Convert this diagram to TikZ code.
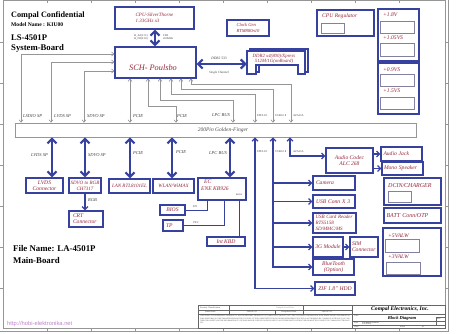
\documentclass[tikz,border=0pt]{standalone}
\usepackage{fontspec}
\setmainfont{Liberation Serif}
\setsansfont{Liberation Sans}
\usetikzlibrary{arrows.meta}
\definecolor{bl}{RGB}{55,66,160}
\definecolor{tr}{RGB}{150,40,60}
\definecolor{gl}{RGB}{150,150,150}
\definecolor{ib}{RGB}{130,130,160}
\definecolor{urlc}{RGB}{190,130,200}
\tikzset{
 blk/.style={draw=bl, line width=1.1pt, fill=white, text=tr, font=\fontsize{5.6}{6.2}\selectfont\itshape, align=center, inner sep=0pt},
 ltw/.style={align=left, text width=#1},
 rtxt/.style={text=tr, font=\fontsize{5.6}{6.2}\selectfont\itshape, inner sep=0pt},
 inb/.style={draw=ib, line width=0.6pt},
 garr/.style={draw=gl, line width=0.6pt, {Straight Barb[length=2.5pt,width=4pt]}-{Straight Barb[length=2.5pt,width=4pt]}},
 big/.style={draw=bl, line width=2.2pt, {Straight Barb[length=4.5pt,width=9pt]}-{Straight Barb[length=4.5pt,width=9pt]}},
 bline/.style={draw=bl, line width=1.3pt},
 bboth/.style={bline, {Straight Barb[length=3pt,width=6pt]}-{Straight Barb[length=3pt,width=6pt]}},
 barrow/.style={bline, -{Straight Barb[length=3pt,width=6pt]}},
 thinb/.style={draw=bl, line width=1pt},
 lab/.style={font=\fontsize{4.5}{4.5}\selectfont\itshape, text=black!75, inner sep=0pt},
 sml/.style={font=\fontsize{2.8}{3}\selectfont, text=black!75, inner sep=0pt},
 tiny/.style={font=\fontsize{2.2}{2.5}\selectfont, text=black!75, inner sep=0pt},
 ttl/.style={font=\bfseries, inner sep=0pt, anchor=west},
 frm/.style={draw=gl, line width=0.5pt},
 tb/.style={draw=black!60, line width=0.4pt},
}
\begin{document}
\begin{tikzpicture}[x=1pt,y=-1pt]
\useasboundingbox (0,0) rectangle (474,334);
% frame
\draw[frm] (3,0.5) rectangle (445,328);
\draw[frm] (448,0) -- (448,331) -- (0,331);
\foreach \x in {47,91,...,399} {\draw[frm] (\x,0.5) -- (\x,3.5); \draw[frm] (\x,328) -- (\x,331);}
\foreach \y in {42,83,124,165,206,247,288} {\draw[frm] (0,\y) -- (3,\y); \draw[frm] (445,\y) -- (448,\y);}

% header texts
\node[ttl, font=\fontsize{8.2}{9}\selectfont\bfseries] (t1) at (11,15) {Compal Confidential};
\node[ttl, font=\fontsize{5.6}{6}\selectfont\bfseries] (t2) at (11,25) {Model Name : KIU00};
\node[ttl, font=\fontsize{8.6}{9}\selectfont\bfseries] (t3) at (11,38) {LS-4501P};
\node[ttl, font=\fontsize{8.7}{9}\selectfont\bfseries] (t4) at (11,48) {System-Board};
\node[ttl, font=\fontsize{8.8}{9}\selectfont\bfseries] (t5) at (13,249) {File Name: LA-4501P};
\node[ttl, font=\fontsize{8.8}{9}\selectfont\bfseries] (t6) at (13,260) {Main-Board};
\node[anchor=west, inner sep=0pt, text=urlc, font=\fontsize{5.8}{6}\sffamily] (url) at (7,324) {http://hobi-elektronika.net};

% top blocks
\node[blk, minimum width=79pt, minimum height=22pt, align=left, font=\fontsize{5}{6}\selectfont\itshape] (cpu) at (154.5,18) {CPU-SilverThorne\\1.33GHz x3};
\node[blk, minimum width=81pt, minimum height=31pt] (sch) at (155.5,62.5) {};
\node[rtxt, font=\fontsize{8.3}{9}\selectfont\itshape] (scht) at (153,68) {SCH- Poulsbo};
\node[blk, minimum width=42pt, minimum height=16pt, align=left, font=\fontsize{4.6}{5.6}\selectfont\itshape] (clk) at (248,28) {Clock Gen\\RTM880n10};
\node[blk, minimum width=57pt, minimum height=26pt] (creg) at (345.5,23) {};
\node[rtxt, anchor=west] (cregt) at (322,16) {CPU Regulator};
\draw[inb] (321,23) rectangle (344,33);

% power boxes
\node[blk, minimum width=41pt, minimum height=52pt] (pw1) at (398.5,35) {};
\node[blk, minimum width=41pt, minimum height=51pt] (pw2) at (398.5,88.5) {};
\node[rtxt, anchor=west] (p1) at (383,15) {+1.8V};
\node[rtxt, anchor=west] (p2) at (383,37.5) {+1.05VS};
\node[rtxt, anchor=west] (p3) at (383,69.5) {+0.9VS};
\node[rtxt, anchor=west] (p4) at (383,91) {+1.5VS};
\draw[inb] (380,21) rectangle (414,33);
\draw[inb] (380,43) rectangle (414,56);
\draw[inb] (380,74) rectangle (414,86);
\draw[inb] (380,97) rectangle (414,109);

% DDR module
\draw[draw=bl, line width=1.1pt, fill=white] (250,49) -- (308,49) -- (308,72) -- (301,72) -- (301,63) -- (259,63) -- (259,72) -- (250,72) -- cycle;
\draw[draw=bl, line width=1.1pt, fill=white] (247,51) -- (305,51) -- (305,74) -- (298,74) -- (298,65) -- (256,65) -- (256,74) -- (247,74) -- cycle;
\node[minimum width=58pt, minimum height=23pt, inner sep=0pt] (ddr) at (276,62.5) {};
\node[rtxt, align=center, font=\fontsize{4.8}{4.6}\selectfont\itshape] (ddrt) at (274,59) {DDR2 x4(800)/Xpress\\512M/1G(onBoard)};

% bus
\node[draw=gl, line width=0.6pt, minimum width=401pt, minimum height=14pt, inner sep=0pt] (bus) at (215.5,130) {};
\node[font=\fontsize{5.5}{6}\selectfont\itshape, text=black!70, inner sep=0pt] (bust) at (223,130) {200Pin Golden-Finger};

% CPU-SCH and SCH-DDR
\draw[big] (cpu.south -| 155,0) -- (sch.north -| 155,0);
\node[sml, anchor=east, align=right] (hl) at (148,37) {H\_A\#(3:31)\\H\_D\#(0:63)};
\node[sml, anchor=west, align=left] (hr) at (163,37) {FSB\\400MHz};
\draw[big] (sch.east |- 0,64) -- (ddr.west |- 0,64);
\node[sml, font=\fontsize{3.6}{4}\selectfont\itshape] (dl1) at (219,58) {DDR2 533};
\node[sml, font=\fontsize{3.2}{4}\selectfont\itshape] (dl2) at (219,72.5) {Single Channel};

% gray connections SCH <-> bus
\draw[garr] (bus.north -| 21,0) |- (sch.west |- 0,54);
\draw[garr] (bus.north -| 51,0) |- (sch.west |- 0,62);
\draw[garr] (bus.north -| 84,0) |- (sch.west |- 0,71);
\draw[garr] (sch.south -| 130,0) -- (bus.north -| 130,0);
\draw[garr] (sch.south -| 148,0) -- (148,106) -- (176,106) -- (bus.north -| 176,0);
\draw[garr] (sch.south -| 160,0) -- (160,100) -- (233,100) -- (bus.north -| 233,0);
\draw[garr] (sch.south -| 171,0) -- (171,94) -- (255,94) -- (bus.north -| 255,0);
\draw[garr] (sch.south -| 181,0) -- (181,89) -- (273,89) -- (bus.north -| 273,0);
\draw[garr] (sch.south -| 191,0) -- (191,84) -- (291,84) -- (bus.north -| 291,0);

% top labels
\node[lab, anchor=west] (l1) at (23,116) {LSDIO SP};
\node[lab, anchor=west] (l2) at (54,116) {LVDS SP};
\node[lab, anchor=west] (l3) at (87,116) {SDVO SP};
\node[lab, anchor=west] (l4) at (133,116) {PCIE};
\node[lab, anchor=west] (l5) at (177,116) {PCIE};
\node[lab, anchor=east] (l6) at (230,115) {LPC BUS};
\node[sml, anchor=west] (l7) at (257,115.5) {PATA IO};
\node[sml, anchor=west] (l8) at (275,115.5) {USB2.0 8};
\node[sml, anchor=west] (l9) at (293,115.5) {AZALIA};

% bottom blocks
\node[blk, minimum width=37pt, minimum height=15pt] (lvds) at (44.5,185.5) {LVDS\\Connector};
\node[blk, minimum width=32pt, minimum height=15pt, font=\fontsize{5}{6}\selectfont\itshape] (sdvo) at (85,185.5) {SDVO to RGB\\CH7317};
\node[blk, minimum width=34pt, minimum height=16pt, ltw=26pt] (crt) at (86,219) {CRT\\Connector};
\node[blk, minimum width=41pt, minimum height=14pt, font=\fontsize{5}{6}\selectfont\itshape] (lan) at (129.5,186) {LAN RTL8101EL};
\node[blk, minimum width=41pt, minimum height=14pt, font=\fontsize{5}{6}\selectfont\itshape] (wlan) at (173.5,186) {WLAN/WiMAX};
\node[blk, minimum width=48pt, minimum height=22pt] (ec) at (222,189) {};
\node[rtxt, anchor=north west, align=left] (ect) at (201,180) {\hspace{3pt}EC\\ENE KB926};
\node[tiny] (ecs) at (239,195) {KB926};
\node[blk, minimum width=25pt, minimum height=10pt] (bios) at (172.5,210) {BIOS};
\node[blk, minimum width=20pt, minimum height=11pt, ltw=14pt] (tp) at (173,225.5) {TP};
\node[blk, minimum width=38pt, minimum height=9pt] (kbd) at (226,241.5) {Int KBD};

\draw[big] (bus.south -| 52,0) -- (lvds.north -| 52,0);
\draw[big] (bus.south -| 85,0) -- (sdvo.north -| 85,0);
\draw[big] (bus.south -| 130,0) -- (lan.north -| 130,0);
\draw[big] (bus.south -| 172,0) -- (wlan.north -| 172,0);
\draw[big] (bus.south -| 230,0) -- (ec.north -| 230,0);
\draw[barrow] (sdvo.south -| 85,0) -- (crt.north -| 85,0);

\node[lab, anchor=east] (b1) at (48,155) {LVDS SP};
\node[lab, anchor=west] (b2) at (88,155) {SDVO SP};
\node[lab, anchor=west] (b3) at (133,153) {PCIE};
\node[lab, anchor=west] (b4) at (176,152) {PCIE};
\node[lab, anchor=east] (b5) at (227,153) {LPC BUS};
\node[lab, anchor=west] (b6) at (88,200) {RGB};

\draw[thinb] (bios.east) -| (ec.south -| 207,0);
\draw[thinb] (tp.east) -| (ec.south -| 224,0);
\draw[thinb] (ec.south -| 239,0) -- (kbd.north -| 239,0);
\node[sml] (spi) at (195,207) {SPI};
\node[sml] (ps2) at (196,222.5) {PS/2};

% right side: audio, usb, pata
\node[blk, minimum width=47pt, minimum height=25pt] (codec) at (349.5,160.5) {Audio Codec\\ALC 268};
\node[blk, minimum width=41pt, minimum height=14pt, ltw=36pt] (jack) at (401.5,154) {Audio Jack};
\node[blk, minimum width=41pt, minimum height=13pt, ltw=37pt] (spk) at (402.5,168.5) {Mono Speaker};
\node[blk, minimum width=42pt, minimum height=14pt, ltw=36pt] (cam) at (334,183) {Camera};
\node[blk, minimum width=42pt, minimum height=13pt, ltw=36pt] (usbc) at (334,201.5) {USB Conn X 3};
\node[blk, minimum width=43pt, minimum height=20pt, ltw=38pt, font=\fontsize{5}{5.8}\selectfont\itshape] (card) at (334.5,223) {USB Card Reader\\RTS5158\\SD/MMC/MS};
\node[blk, minimum width=30pt, minimum height=20pt] (g3) at (328,247) {3G Module};
\node[blk, minimum width=28pt, minimum height=20pt, ltw=24pt] (sim) at (364,247) {SIM\\Connector};
\node[blk, minimum width=41pt, minimum height=16pt] (bt) at (333.5,267) {BlueTooth\\(Option)};
\node[blk, minimum width=40pt, minimum height=13pt] (hdd) at (335,288.5) {ZIF 1.8'' HDD};

\draw[bboth] (bus.south -| 290,0) |- (codec.west |- 0,156);
\draw[barrow] (codec.east |- jack.west) -- (jack.west);
\draw[barrow] (codec.east |- spk.west) -- (spk.west);
\draw[bboth] (bus.south -| 273,0) |- (bt.west);
\draw[barrow] (273,0 |- cam.west) -- (cam.west);
\draw[barrow] (273,0 |- usbc.west) -- (usbc.west);
\draw[barrow] (273,0 |- card.west) -- (card.west);
\draw[barrow] (273,0 |- g3.west) -- (g3.west);
\draw[barrow] (g3.east) -- (sim.west);
\draw[bboth] (bus.south -| 255,0) |- (hdd.west);
\node[sml, anchor=west] (c7) at (257,152) {PATA IO};
\node[sml, anchor=west] (c8) at (275,152) {USB2.0 8};
\node[sml, anchor=west] (c9) at (293,152) {AZALIA};

% right column power
\node[blk, minimum width=57pt, minimum height=27pt] (dc) at (412.5,191.5) {};
\node[rtxt, anchor=west, font=\fontsize{6}{6}\selectfont\itshape] (dct) at (388,186) {DCIN/CHARGER};
\draw[inb] (388,191) rectangle (411,202);
\node[blk, minimum width=57pt, minimum height=15pt, ltw=52pt, font=\fontsize{6}{6}\selectfont\itshape] (batt) at (412.5,215.5) {BATT Conn/OTP};
\node[blk, minimum width=58pt, minimum height=48pt] (valw) at (412,252) {};
\node[rtxt, anchor=west] (v1) at (388,235.5) {+5VALW};
\node[rtxt, anchor=west] (v2) at (388,256.5) {+3VALW};
\draw[inb] (385,239) rectangle (419,252);
\draw[inb] (386,262) rectangle (420,274);

% title block
\draw[tb] (198,305) rectangle (445,328);
\draw[tb] (352,305) -- (352,328);
\draw[tb] (198,310) -- (352,310);
\draw[tb] (198,314) -- (352,314);
\draw[tb] (229,305) -- (229,314);
\draw[tb] (303,305) -- (303,314);
\draw[tb] (275,310) -- (275,314);
\draw[tb] (352,314) -- (445,314);
\draw[tb] (352,321) -- (445,321);
\draw[tb] (352,325) -- (445,325);
\draw[tb] (436,317) -- (436,325);
\draw[tb] (436,317) -- (445,317);
\node[tiny, anchor=west] (s1) at (200,307.5) {Security Classification};
\node[tiny, text=black!45] (s2) at (285,307.5) {Compal Secret Data};
\node[tiny, anchor=west] (s3) at (205,312) {Issued Date};
\node[tiny] (s4) at (252,312) {2008/07/01};
\node[tiny] (s5) at (289,312) {Deciphered Date};
\node[tiny] (s6) at (327,312) {2009/07/01};
\node[tiny, anchor=north west, text width=150pt, font=\fontsize{1.8}{2.2}\selectfont, align=justify] (s7) at (200,315.5) {THIS SHEET OF ENGINEERING DRAWING IS THE PROPRIETARY PROPERTY OF COMPAL ELECTRONICS, INC. AND CONTAINS CONFIDENTIAL AND TRADE SECRET INFORMATION. THIS SHEET MAY NOT BE TRANSFERED FROM THE CUSTODY OF THE COMPETENT DIVISION OF R\&D DEPARTMENT EXCEPT AS AUTHORIZED BY COMPAL ELECTRONICS, INC. NEITHER THIS SHEET NOR THE INFORMATION IT CONTAINS MAY BE USED BY OR DISCLOSED TO ANY THIRD PARTY WITHOUT PRIOR WRITTEN CONSENT OF COMPAL ELECTRONICS, INC.};
\node[inner sep=0pt, font=\fontsize{5.6}{6}\selectfont\bfseries\itshape] (s8) at (400,309) {Compal Electronics, Inc.};
\node[tiny, anchor=west] (s9) at (354,316) {Title};
\node[inner sep=0pt, font=\fontsize{4.5}{5}\selectfont\bfseries\itshape] (s10) at (402,318) {Block Diagram};
\node[tiny, anchor=west] (s11) at (354,322.5) {Size};
\node[tiny, anchor=west] (s12) at (362,322.5) {Document Number};
\node[tiny, anchor=west] (s13) at (437,319) {Rev};
\node[tiny, anchor=west] (s14) at (362,323.8) {LA-4501P};
\node[tiny, anchor=west] (s15) at (354,326.5) {Date:};
\node[tiny, anchor=west] (s16) at (400,326.5) {Sheet};
\node[tiny, anchor=west] (s17) at (422,326.5) {of};
\end{tikzpicture}
\end{document}
